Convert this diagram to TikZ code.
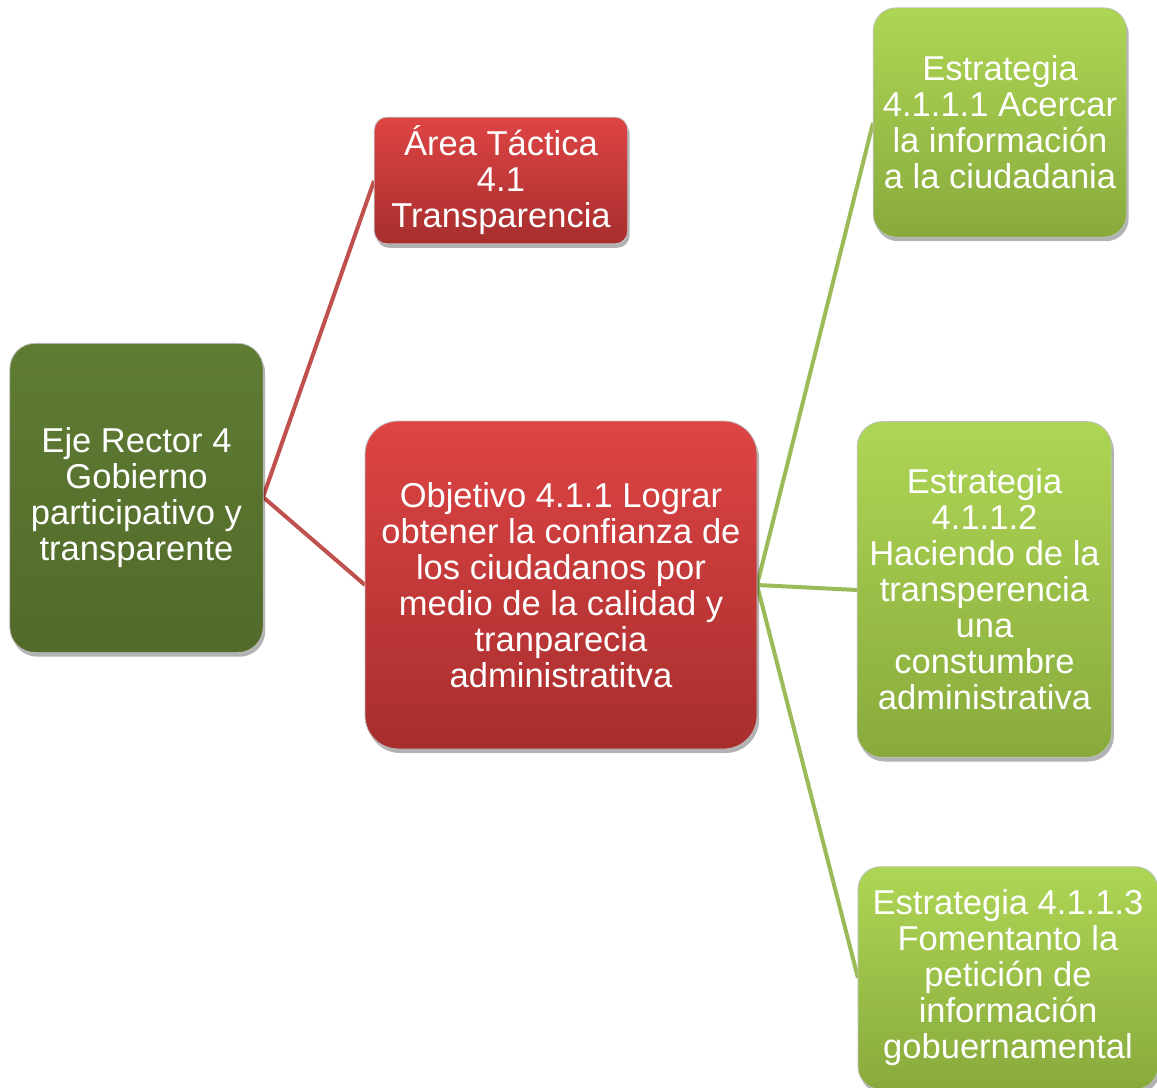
\documentclass[tikz,border=0pt]{standalone}
\usepackage{fontspec}
\setmainfont{Liberation Sans}
\usetikzlibrary{shadows}
\definecolor{ejetop}{HTML}{5F7C33}
\definecolor{ejebot}{HTML}{526A2A}
\definecolor{redtop}{HTML}{DE4444}
\definecolor{redbot}{HTML}{A72E2E}
\definecolor{lgtop}{HTML}{AED655}
\definecolor{lgbot}{HTML}{88AA3C}
\definecolor{redline}{HTML}{C0504D}
\definecolor{greenline}{HTML}{9BBB59}
\tikzset{
  x=0.75pt, y=-0.75pt,
  box/.style={rectangle, align=center, text=white, inner sep=0pt,
    font=\fontsize{25.9pt}{27pt}\selectfont,
    draw=black!25, line width=0.6pt,
    drop shadow={shadow xshift=1.5pt, shadow yshift=-3pt, opacity=0.3, fill=black}},
  ejebox/.style={box, top color=ejetop, bottom color=ejebot},
  redbox/.style={box, top color=redtop, bottom color=redbot},
  lgbox/.style={box, top color=lgtop, bottom color=lgbot},
  redlink/.style={draw=redline, line width=3pt},
  greenlink/.style={draw=greenline, line width=3pt}
}
\begin{document}
\begin{tikzpicture}
\useasboundingbox (0,0) rectangle (1157,1088);
\fill[white] (0,0) rectangle (1157,1088);
% links drawn first
\coordinate (ejeR) at (263,497);
\coordinate (areaL) at (374,181);
\coordinate (objL) at (365,585);
\coordinate (objR) at (757,585);
\coordinate (e1L) at (873,123);
\coordinate (e2L) at (857,590);
\coordinate (e3L) at (858,978);
\draw[redlink] (ejeR) -- (areaL);
\draw[redlink] (ejeR) -- (objL);
\draw[greenlink] (objR) -- (e1L);
\draw[greenlink] (objR) -- (e2L);
\draw[greenlink] (objR) -- (e3L);
% nodes
\node[ejebox, rounded corners=19pt, minimum width=190pt, minimum height=232pt] (eje) at (136.5,498)
  {Eje Rector 4\\Gobierno\\participativo y\\transparente};
\node[redbox, rounded corners=9.5pt, minimum width=190pt, minimum height=95pt] (area) at (501,180.5)
  {Área Táctica\\4.1\\Transparencia};
\node[redbox, rounded corners=25pt, minimum width=294pt, minimum height=246pt] (obj) at (561,585)
  {Objetivo 4.1.1 Lograr\\obtener la confianza de\\los ciudadanos por\\medio de la calidad y\\tranparecia\\administratitva};
\node[lgbox, rounded corners=17pt, minimum width=190pt, minimum height=172pt] (e1) at (1000,122.5)
  {Estrategia\\4.1.1.1 Acercar\\la información\\a la ciudadania};
\node[lgbox, rounded corners=19pt, minimum width=191pt, minimum height=252pt] (e2) at (984.5,589.5)
  {Estrategia\\4.1.1.2\\Haciendo de la\\transperencia\\una\\constumbre\\administrativa};
\node[lgbox, rounded corners=17pt, minimum width=225pt, minimum height=167pt] (e3) at (1008,978)
  {Estrategia 4.1.1.3\\Fomentanto la\\petición de\\información\\gobuernamental};
\end{tikzpicture}
\end{document}
